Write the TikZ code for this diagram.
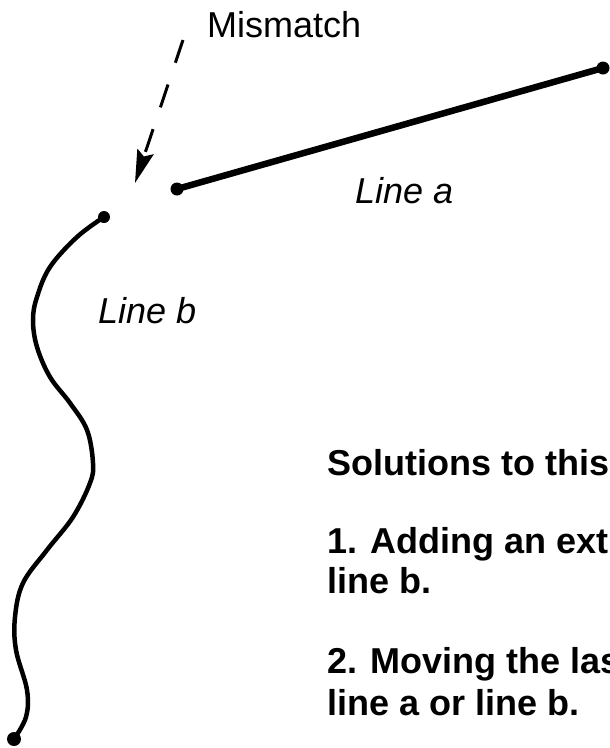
\documentclass[tikz,border=0pt]{standalone}
\usepackage{fontspec}
\setmainfont{Liberation Sans}
\usetikzlibrary{arrows.meta}

\begin{document}
\begin{tikzpicture}[x=1pt, y=-1pt,
    endpt/.style={circle, fill=black, inner sep=0pt, minimum size=13pt},
    linelabel/.style={font=\fontsize{36}{40}\selectfont\itshape, anchor=base west, inner sep=0pt},
    plain/.style={font=\fontsize{36}{40}\selectfont, anchor=base west, inner sep=0pt},
    solution/.style={font=\fontsize{36}{40}\selectfont\bfseries, anchor=base west, inner sep=0pt},
    pointer/.style={-{Stealth[length=33pt, width=17pt, inset=5pt]}, line width=3pt,
      dash pattern=on 24pt off 23pt},
  ]
  \useasboundingbox (0,0) rectangle (610,748);
  \clip (0,0) rectangle (610,748);

  \node[endpt] (aleft)  at (177,189) {};
  \node[endpt] (aright) at (603,68)  {};
  \node[endpt, minimum size=12pt] (btop) at (104,217) {};
  \node[endpt, minimum size=14pt] (bbot) at (14,739)  {};

  \draw[line width=6.5pt] (aleft.center) -- (aright.center);
  \draw[line width=4.5pt, line cap=round] plot[smooth, tension=0.6] coordinates {
    (104,217) (77,237) (50,267) (37,297) (33,320) (37,347) (50,377) (70,403)
    (87,430) (93,463) (90,483) (73,517) (47,550) (23,583) (15,617) (16,650)
    (27,690) (26,717) (14,739)};

  \coordinate (mfrom) at (183,40);
  \coordinate (mto)   at (135,183);
  \draw[pointer] (mfrom) -- (mto);

  \node[plain] (mismatch) at (207,37) {Mismatch};
  \node[linelabel] (labela) at (355,203) {Line a};
  \node[linelabel] (labelb) at (98,323) {Line b};

  \node[solution] (sol)   at (327,475) {Solutions to this};
  \node[solution] (sol1)  at (327,553) {1. Adding an extr};
  \node[solution] (sol1b) at (327,593) {line b.};
  \node[solution] (sol2)  at (327,673) {2. Moving the las};
  \node[solution] (sol2b) at (327,715) {line a or line b.};
\end{tikzpicture}
\end{document}
